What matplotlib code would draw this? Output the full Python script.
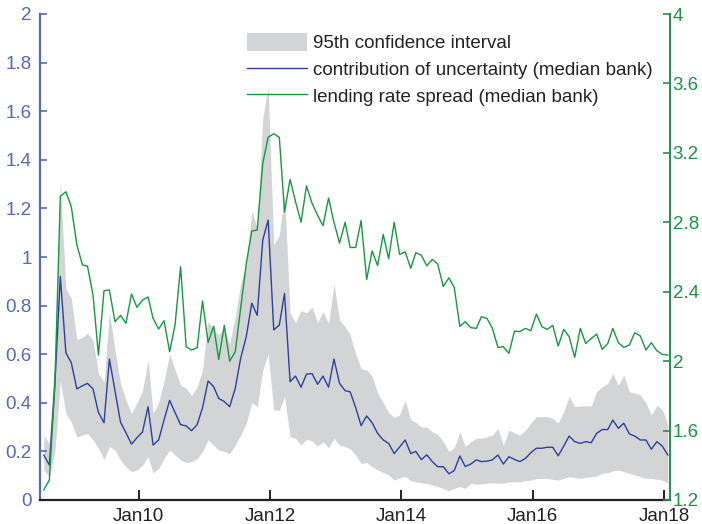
import matplotlib
matplotlib.use("Agg")
import matplotlib.pyplot as plt
import matplotlib.dates as mdates
from matplotlib.patches import Patch
from matplotlib.lines import Line2D
import numpy as np
import pandas as pd

plt.rcParams['font.family'] = ['Liberation Sans', 'DejaVu Sans']

# monthly observations, Jul 2008 .. Jan 2018
dates = pd.date_range('2008-07-01', '2018-01-01', freq='MS') + pd.Timedelta(days=21)

uncertainty = [
    0.185, 0.144, 0.48, 0.92, 0.606, 0.565, 0.457, 0.47, 0.48, 0.457,
    0.36, 0.318, 0.58, 0.45, 0.32, 0.277, 0.23, 0.256, 0.28, 0.384,
    0.226, 0.247, 0.33, 0.41, 0.36, 0.31, 0.305, 0.285, 0.31, 0.38,
    0.49, 0.466, 0.418, 0.405, 0.384, 0.46, 0.583, 0.672, 0.81, 0.76,
    1.07, 1.152, 0.70, 0.72, 0.85, 0.487, 0.51, 0.464, 0.518, 0.52,
    0.476, 0.51, 0.464, 0.58, 0.48, 0.45, 0.445, 0.38, 0.306, 0.346,
    0.318, 0.274, 0.247, 0.233, 0.191, 0.218, 0.247, 0.191, 0.2, 0.166,
    0.186, 0.158, 0.137, 0.137, 0.108, 0.121, 0.181, 0.138, 0.148, 0.165,
    0.158, 0.16, 0.165, 0.185, 0.148, 0.178, 0.167, 0.158, 0.171, 0.195,
    0.213, 0.213, 0.217, 0.217, 0.182, 0.222, 0.263, 0.24, 0.233, 0.24,
    0.236, 0.274, 0.29, 0.29, 0.329, 0.295, 0.316, 0.272, 0.263, 0.247,
    0.247, 0.209, 0.24, 0.222, 0.185,
]

ci_upper = [
    0.267, 0.233, 0.62, 1.31, 0.87, 0.83, 0.66, 0.67, 0.686, 0.658,
    0.52, 0.487, 0.775, 0.617, 0.48, 0.41, 0.357, 0.40, 0.45, 0.576,
    0.357, 0.40, 0.49, 0.60, 0.535, 0.473, 0.46, 0.43, 0.466, 0.535,
    0.734, 0.70, 0.68, 0.706, 0.645, 0.754, 0.89, 0.97, 1.19, 1.12,
    1.57, 1.70, 1.05, 1.09, 1.26, 0.77, 0.73, 0.78, 0.77, 0.795,
    0.73, 0.775, 0.727, 0.89, 0.74, 0.713, 0.68, 0.60, 0.54, 0.535,
    0.51, 0.44, 0.40, 0.36, 0.34, 0.35, 0.41, 0.33, 0.32, 0.30,
    0.30, 0.28, 0.27, 0.24, 0.20, 0.215, 0.28, 0.22, 0.24, 0.254,
    0.254, 0.26, 0.267, 0.295, 0.226, 0.288, 0.277, 0.267, 0.288, 0.316,
    0.343, 0.343, 0.343, 0.336, 0.316, 0.364, 0.425, 0.384, 0.387, 0.388,
    0.387, 0.446, 0.466, 0.48, 0.52, 0.473, 0.514, 0.446, 0.44, 0.432,
    0.40, 0.35, 0.39, 0.373, 0.31,
]

ci_lower = [
    0.123, 0.096, 0.2, 0.49, 0.357, 0.32, 0.26, 0.267, 0.274, 0.247,
    0.213, 0.167, 0.22, 0.206, 0.165, 0.137, 0.117, 0.123, 0.144, 0.178,
    0.112, 0.13, 0.17, 0.206, 0.185, 0.165, 0.154, 0.158, 0.17, 0.2,
    0.247, 0.226, 0.206, 0.2, 0.192, 0.226, 0.267, 0.315, 0.40, 0.384,
    0.535, 0.60, 0.37, 0.37, 0.425, 0.26, 0.254, 0.226, 0.25, 0.244,
    0.222, 0.24, 0.215, 0.254, 0.226, 0.22, 0.21, 0.185, 0.15, 0.154,
    0.137, 0.124, 0.113, 0.104, 0.082, 0.091, 0.097, 0.079, 0.075, 0.071,
    0.068, 0.062, 0.055, 0.047, 0.038, 0.048, 0.055, 0.048, 0.069, 0.066,
    0.066, 0.069, 0.071, 0.069, 0.069, 0.075, 0.075, 0.075, 0.08, 0.082,
    0.088, 0.089, 0.089, 0.085, 0.082, 0.089, 0.096, 0.093, 0.089, 0.093,
    0.096, 0.099, 0.11, 0.112, 0.12, 0.123, 0.117, 0.11, 0.103, 0.096,
    0.089, 0.089, 0.085, 0.082, 0.069,
]

spread = [
    1.258, 1.315, 1.87, 2.95, 2.976, 2.89, 2.67, 2.554, 2.548, 2.38,
    2.035, 2.406, 2.41, 2.227, 2.264, 2.218, 2.387, 2.31, 2.352, 2.37,
    2.246, 2.185, 2.233, 2.054, 2.208, 2.544, 2.083, 2.064, 2.077, 2.346,
    2.108, 2.202, 2.01, 2.206, 2.0, 2.054, 2.304, 2.56, 2.75, 2.755,
    3.14, 3.29, 3.31, 3.29, 2.86, 3.047, 2.92, 2.8, 3.01, 2.91,
    2.84, 2.78, 2.94, 2.8, 2.68, 2.8, 2.655, 2.655, 2.81, 2.47,
    2.635, 2.55, 2.73, 2.59, 2.8, 2.615, 2.63, 2.535, 2.625, 2.61,
    2.55, 2.586, 2.56, 2.43, 2.48, 2.425, 2.2, 2.227, 2.193, 2.189,
    2.256, 2.246, 2.19, 2.079, 2.083, 2.045, 2.173, 2.17, 2.189, 2.175,
    2.271, 2.198, 2.183, 2.206, 2.087, 2.183, 2.141, 2.022, 2.189, 2.102,
    2.13, 2.156, 2.068, 2.102, 2.189, 2.106, 2.079, 2.093, 2.164, 2.145,
    2.064, 2.106, 2.06, 2.039, 2.035,
]

left_ticks = [0, 0.2, 0.4, 0.6, 0.8, 1, 1.2, 1.4, 1.6, 1.8, 2]
left_ticklabels = ['0', '0.2', '0.4', '0.6', '0.8', '1', '1.2', '1.4', '1.6', '1.8', '2']
right_ticks = [1.2, 1.6, 2, 2.4, 2.8, 3.2, 3.6, 4]
right_ticklabels = ['1.2', '1.6', '2', '2.4', '2.8', '3.2', '3.6', '4']
x_tick_years = [2010, 2012, 2014, 2016, 2018]

labels = ['95th confidence interval',
          'contribution of uncertainty (median bank)',
          'lending rate spread (median bank)']

BLUE = '#2d409c'
BLUE_AX = '#5668b8'
GREEN = '#14993f'
GREEN_AX = '#1b9447'
GREY = '#d3d4d6'
FS = 13.5

fig = plt.figure(figsize=(7.02, 5.24), dpi=100)
ax = fig.add_axes([40 / 702, 24 / 524, 630 / 702, 486 / 524])
ax2 = ax.twinx()

ax.fill_between(dates, ci_lower, ci_upper, color=GREY, linewidth=0, zorder=1)
ax.plot(dates, uncertainty, color=BLUE, linewidth=1.0, zorder=2)
ax2.plot(dates, spread, color=GREEN, linewidth=1.0, zorder=3)

ax.set_xlim(pd.Timestamp('2008-07-01'), pd.Timestamp('2018-02-03'))
ax.set_ylim(0, 2)
ax2.set_ylim(1.2, 4)

ax.set_yticks(left_ticks)
ax.set_yticklabels(left_ticklabels)
ax2.set_yticks(right_ticks)
ax2.set_yticklabels(right_ticklabels)

xt = [pd.Timestamp(f'{y}-01-01') for y in x_tick_years]
ax.set_xticks(xt)
ax.xaxis.set_major_formatter(mdates.DateFormatter('%b%y'))

for a in (ax, ax2):
    a.spines['top'].set_visible(False)
ax.spines['right'].set_visible(False)
ax2.spines['left'].set_visible(False)
ax2.spines['bottom'].set_visible(False)
ax.spines['left'].set_color(BLUE_AX)
ax.spines['left'].set_linewidth(1.6)
ax.spines['bottom'].set_color('#222222')
ax.spines['bottom'].set_linewidth(1.6)
ax2.spines['right'].set_color(GREEN_AX)
ax2.spines['right'].set_linewidth(1.4)

ax.tick_params(axis='y', direction='in', length=5, width=1.2, colors=BLUE_AX,
               labelsize=FS, pad=6)
ax.tick_params(axis='x', direction='in', length=7, width=1.4, colors='#222222',
               labelsize=FS, pad=6)
ax2.tick_params(axis='y', direction='in', length=5, width=1.2, colors=GREEN_AX,
                labelsize=FS, pad=2)

handles = [Patch(facecolor=GREY, edgecolor='none'),
           Line2D([], [], color=BLUE, linewidth=1.0),
           Line2D([], [], color=GREEN, linewidth=1.0)]
leg = ax2.legend(handles, labels, loc='upper left',
                 bbox_to_anchor=((247 - 40) / 630, (500 - 33) / 486),
                 frameon=False, fontsize=FS, handlelength=3.2, handleheight=1.1,
                 handletextpad=0.32, labelspacing=0.40, borderpad=0,
                 borderaxespad=0)
for t in leg.get_texts():
    t.set_color('#222222')

fig.savefig('out.png', dpi=100)
